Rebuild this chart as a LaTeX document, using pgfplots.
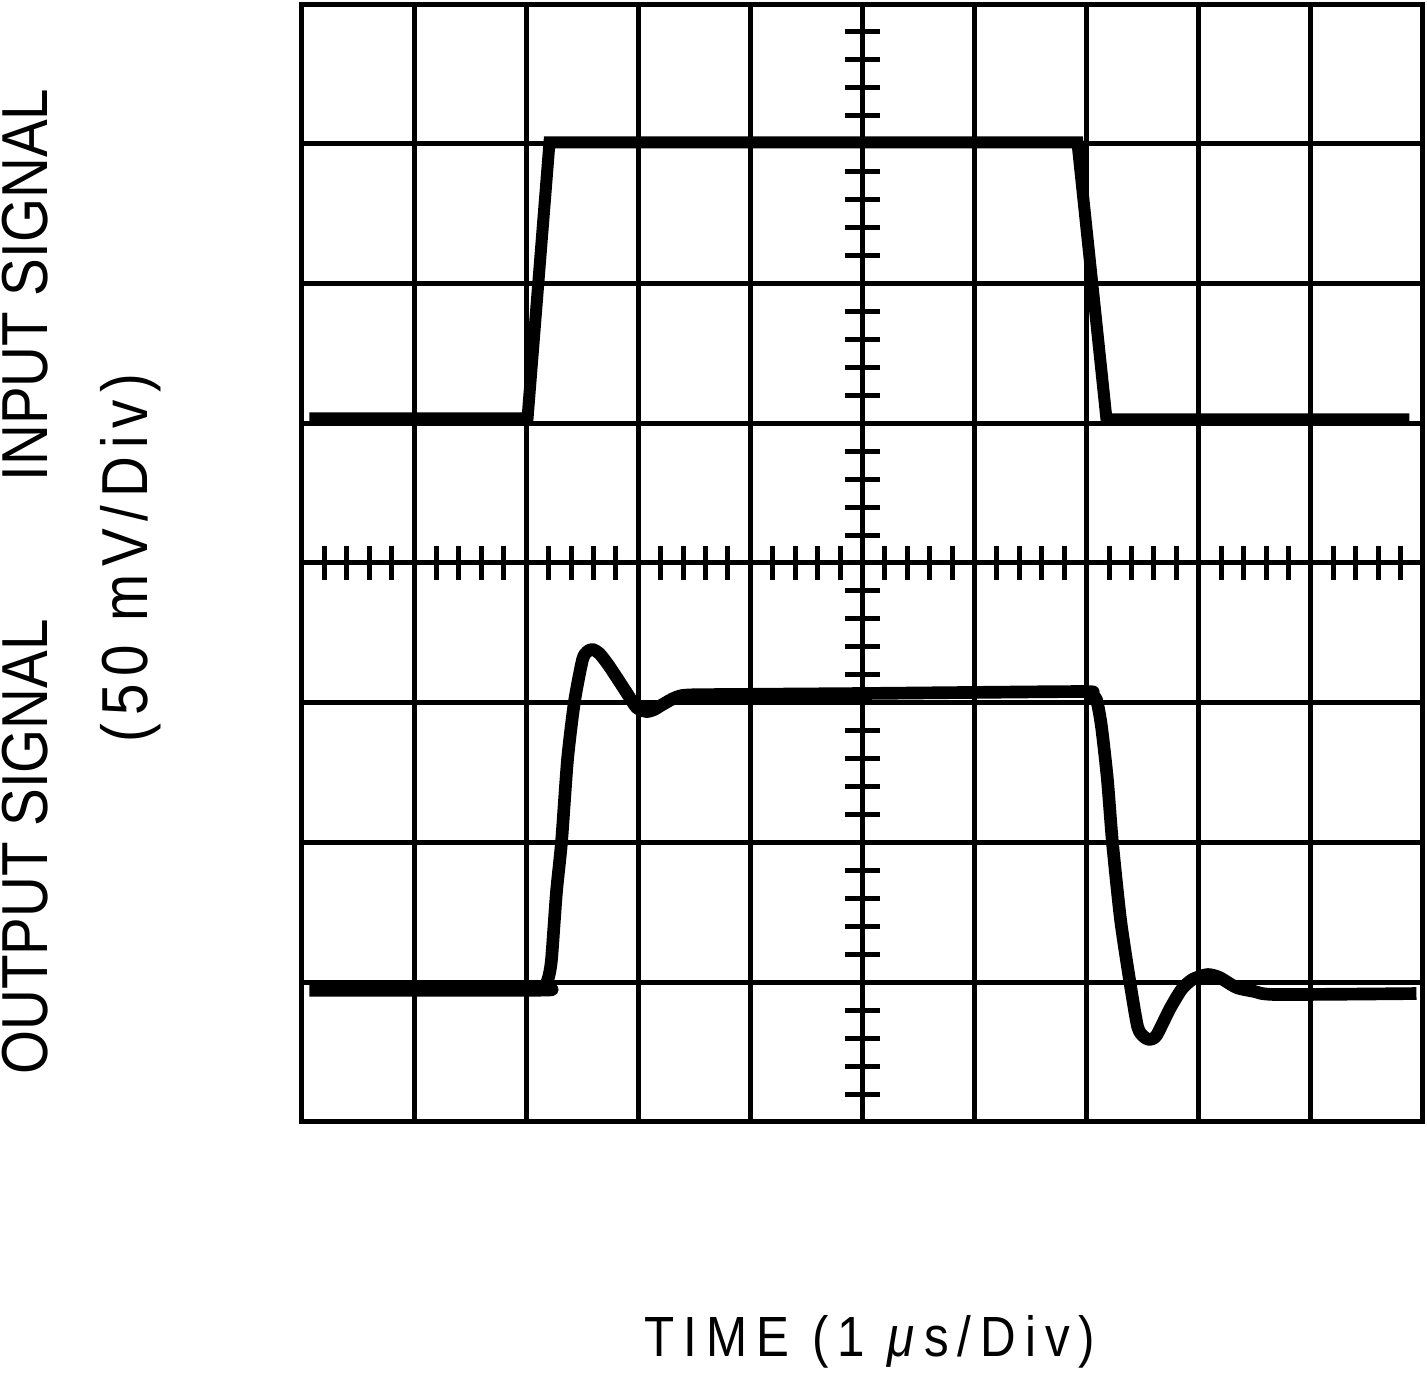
\documentclass[border=0pt]{standalone}
\usepackage{fontspec}
\setmainfont{Liberation Sans}[FakeStretch=0.87]
\newfontfamily\spaced{Liberation Sans}[FakeStretch=0.87,LetterSpace=12]
\newfontfamily\spacedx{Liberation Sans}[FakeStretch=0.87,LetterSpace=16]
\usepackage{pgfplots}
\pgfplotsset{compat=1.18}

\begin{document}
\begin{tikzpicture}
\begin{axis}[
    scale only axis,
    width=336.3pt, height=335.4pt,
    xmin=0, xmax=10, ymin=0, ymax=8,
    xtick={0,...,10}, ytick={0,...,8},
    xticklabels={}, yticklabels={},
    tick label style={inner sep=0pt, outer sep=0pt},
    major tick length=0pt,
    grid=major,
    grid style={black, line width=1.5pt},
    axis line style={black, line width=1.5pt},
    clip=false,
]
% fixed page area
\path (rel axis cs:-0.2694,-0.2326) rectangle (rel axis cs:1.0036,1.0036);

% graticule ticks on the centre lines
\pgfplotsinvokeforeach{0.2,0.4,...,9.8}{
    \draw[black, line width=1.5pt] (axis cs:#1,3.878) -- (axis cs:#1,4.122);
}
\pgfplotsinvokeforeach{0.2,0.4,...,7.8}{
    \draw[black, line width=1.5pt] (axis cs:4.848,#1) -- (axis cs:5.152,#1);
}

% input signal
\addplot[black, line width=3.6pt, line join=miter] coordinates {
    (0.067,5.034) (2.012,5.034) (2.208,7.009) (6.918,7.009)
    (7.177,5.027) (9.879,5.027)
};

% output signal
\addplot[black, line width=3.8pt, smooth, tension=0.4, line join=round] coordinates {
    (0.067,0.943) (2.119,0.943) (2.163,0.962) (2.199,1.034) (2.226,1.163)
    (2.270,1.642) (2.315,2.000) (2.369,2.594) (2.431,3.009) (2.503,3.309)
    (2.547,3.367) (2.592,3.381) (2.654,3.352) (2.743,3.259) (2.895,3.073)
    (2.984,2.966) (3.073,2.937) (3.144,2.952) (3.216,2.987) (3.394,3.052)
    (3.840,3.059) (4.991,3.066) (6.936,3.080) (7.025,3.066) (7.087,3.023)
    (7.132,2.830) (7.185,2.451) (7.230,2.000) (7.302,1.449) (7.382,1.020)
    (7.454,0.683) (7.507,0.612) (7.561,0.590) (7.623,0.619) (7.739,0.805)
    (7.846,0.948) (7.944,1.020) (8.078,1.055) (8.185,1.034) (8.337,0.962)
    (8.497,0.934) (8.693,0.912) (9.942,0.919)
};

% labels
\node[rotate=90, anchor=base, inner sep=0pt, font=\fontsize{19.5}{22}\selectfont]
    at (rel axis cs:-0.2266,0.246) {OUTPUT SIGNAL};
\node[rotate=90, anchor=base, inner sep=0pt, font=\fontsize{19.5}{22}\selectfont]
    at (rel axis cs:-0.2266,0.7487) {INPUT SIGNAL};
\node[rotate=90, anchor=base, inner sep=0pt, font=\spaced\fontsize{19.5}{22}\selectfont]
    at (rel axis cs:-0.1374,0.5045) {(50 mV/Div)};
\node[anchor=base, inner sep=0pt, font=\spacedx\fontsize{17}{20}\selectfont]
    at (rel axis cs:0.5067,-0.2102) {TIME (1 \textit{μ}s/Div)};
\end{axis}
\end{tikzpicture}
\end{document}
